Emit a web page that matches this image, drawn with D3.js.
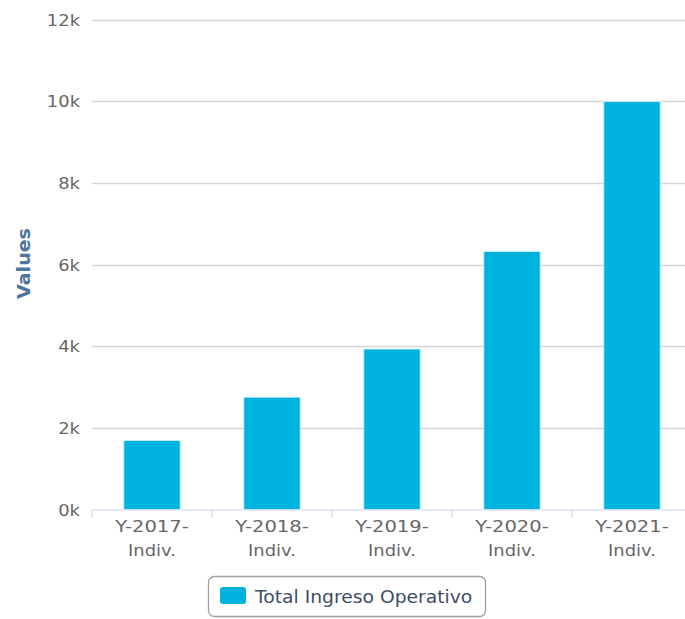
<!DOCTYPE html>
<html>
<head>
<meta charset="utf-8">
<script src="https://cdn.jsdelivr.net/npm/d3@7"></script>
<style>
  html, body { margin: 0; padding: 0; background: #fff; }
  svg { display: block; }
  text { font-family: "DejaVu Sans", Verdana, sans-serif; }
</style>
</head>
<body>
<svg id="chart" width="685" height="619"></svg>
<script>
const categories = ["Y-2017-Indiv.", "Y-2018-Indiv.", "Y-2019-Indiv.", "Y-2020-Indiv.", "Y-2021-Indiv."];
const categoryLines = [["Y-2017-", "Indiv."], ["Y-2018-", "Indiv."], ["Y-2019-", "Indiv."], ["Y-2020-", "Indiv."], ["Y-2021-", "Indiv."]];
const values = [1690, 2750, 3930, 6320, 9990];
const seriesName = "Total Ingreso Operativo";
const yTicks = [0, 2000, 4000, 6000, 8000, 10000, 12000];
const yTickLabels = ["0k", "2k", "4k", "6k", "8k", "10k", "12k"];
const yTitle = "Values";

const svg = d3.select("#chart");
const plot = { left: 92, right: 692, top: 19.5, bottom: 509.5 };

const x = d3.scaleBand().domain(categories).range([plot.left, plot.right]).paddingInner(0).paddingOuter(0);
const y = d3.scaleLinear().domain([0, 12000]).range([plot.bottom, plot.top]);

const barColor = "#00b2de";
const widen = (sel, k) => sel.each(function() {
  const n = this.getComputedTextLength();
  d3.select(this).attr("textLength", n * k).attr("lengthAdjust", "spacingAndGlyphs");
});

// gridlines
svg.append("g").selectAll("line")
  .data(yTicks.filter(d => d > 0))
  .join("line")
  .attr("x1", plot.left).attr("x2", plot.right)
  .attr("y1", d => Math.round(y(d)) + 0.5).attr("y2", d => Math.round(y(d)) + 0.5)
  .attr("stroke", "#d6d6d6").attr("stroke-width", 1.3);

// y axis labels
const yAxis = d3.axisLeft(y).tickValues(yTicks).tickFormat((d, i) => yTickLabels[i]).tickSize(0).tickPadding(12);
const yg = svg.append("g").attr("transform", `translate(${plot.left},0)`).call(yAxis);
yg.select(".domain").remove();
yg.selectAll("text").attr("font-size", 16).attr("fill", "#666").attr("font-family", "DejaVu Sans, sans-serif").attr("dy", "0.35em");
widen(yg.selectAll("text"), 1.12);

// y title
const yt = svg.append("text")
  .attr("transform", `translate(30, ${(plot.top + plot.bottom) / 2 - 1}) rotate(-90)`)
  .attr("text-anchor", "middle")
  .attr("font-size", 17).attr("font-weight", "bold")
  .attr("fill", "#4d759e")
  .text(yTitle);
widen(yt, 1.12);

// bars
const bw = x.bandwidth() * 0.47;
svg.append("g").selectAll("rect")
  .data(values)
  .join("rect")
  .attr("x", (d, i) => x(categories[i]) + (x.bandwidth() - bw) / 2)
  .attr("width", bw)
  .attr("y", d => y(d))
  .attr("height", d => y(0) - y(d))
  .attr("fill", barColor)
  .attr("stroke", "#c8eef8").attr("stroke-width", 1);

// x axis
const xAxis = d3.axisBottom(x).tickSize(0).tickFormat("");
const xg = svg.append("g").attr("transform", `translate(0,${plot.bottom})`).call(xAxis);
xg.select(".domain").attr("stroke", "#ccd6eb").attr("stroke-width", 1.2);
xg.selectAll(".tick").remove();
// category boundary ticks
const bounds = categories.map(c => x(c));
svg.append("g").selectAll("line").data(bounds).join("line")
  .attr("x1", d => d).attr("x2", d => d)
  .attr("y1", plot.bottom).attr("y2", plot.bottom + 8)
  .attr("stroke", "#ccd6eb").attr("stroke-width", 1.2);

// x labels
const xlg = svg.append("g");
categories.forEach((c, i) => {
  const cx = x(c) + x.bandwidth() / 2;
  categoryLines[i].forEach((line, j) => {
    const t = xlg.append("text")
      .attr("text-anchor", "middle")
      .attr("font-size", 16).attr("fill", "#666")
      .attr("x", cx).attr("y", 531.5 + j * 24.5)
      .text(line);
    widen(t, j === 0 ? 1.22 : 1.12);
  });
});

// legend
const lg = svg.append("g");
lg.append("rect")
  .attr("x", 208.5).attr("y", 576.5).attr("width", 277).attr("height", 40)
  .attr("rx", 6).attr("fill", "none").attr("stroke", "#a0a0a0").attr("stroke-width", 1.3);
lg.append("rect")
  .attr("x", 220).attr("y", 587).attr("width", 26).attr("height", 17).attr("rx", 3)
  .attr("fill", barColor);
const lt = lg.append("text")
  .attr("x", 255).attr("y", 603)
  .attr("font-size", 17.5).attr("fill", "#3d4d66")
  .text(seriesName);
widen(lt, 1.07);
</script>
</body>
</html>
